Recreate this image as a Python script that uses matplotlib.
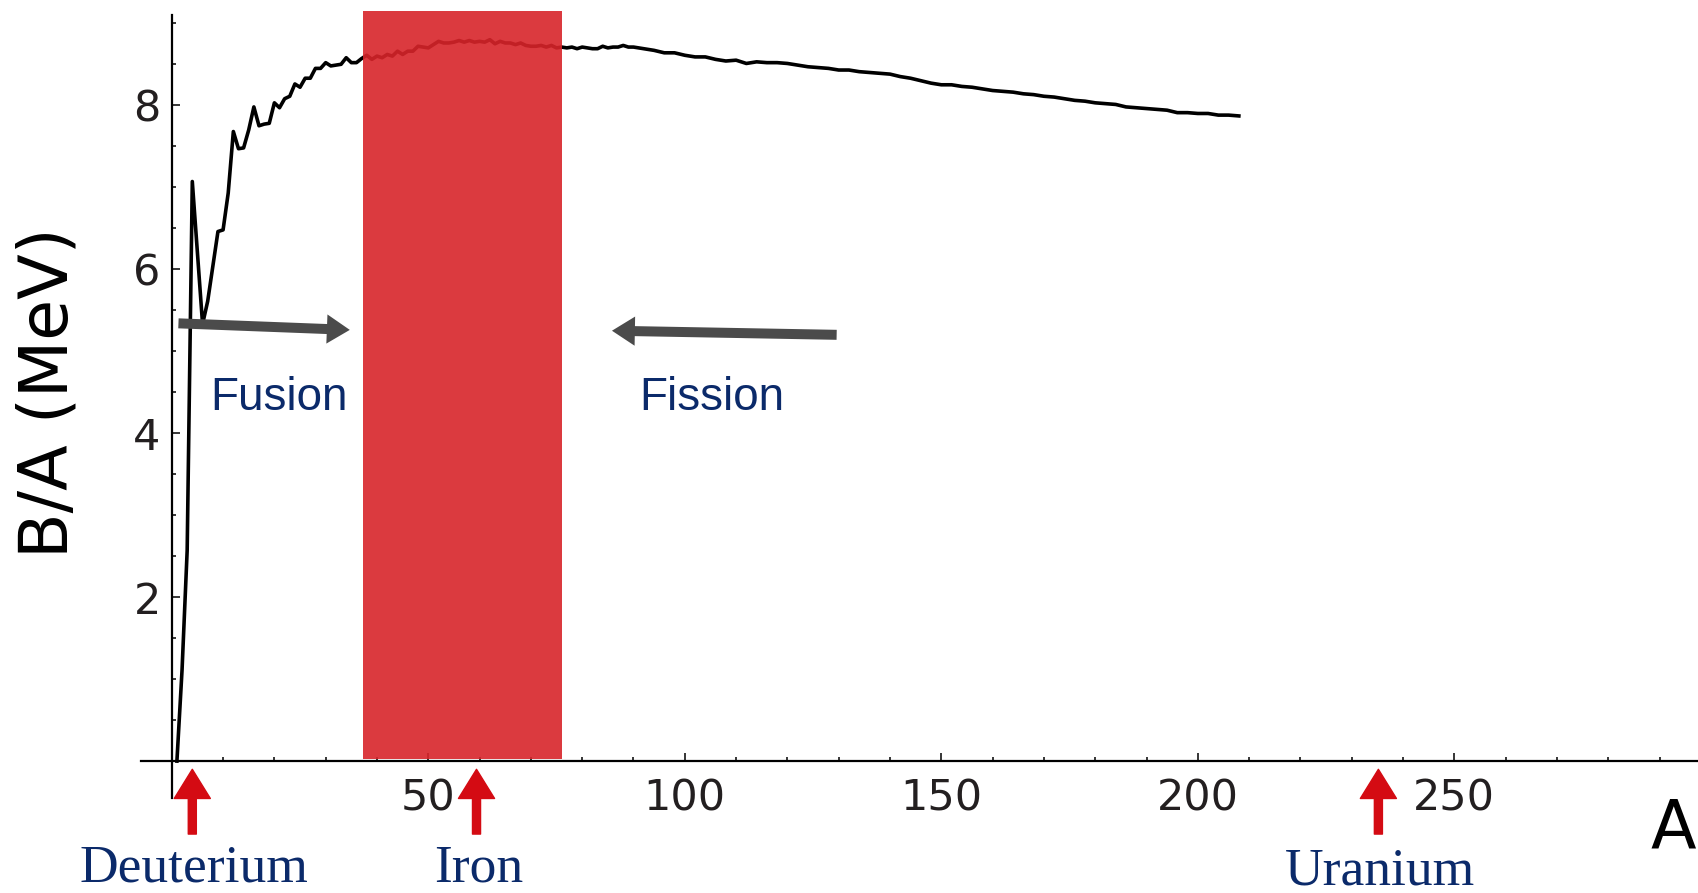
import numpy as np
import matplotlib.pyplot as plt
from matplotlib.ticker import FixedLocator

# binding energy per nucleon vs mass number
mass_number = [1, 2, 3, 4, 6, 7, 9, 10, 11, 12, 13, 14, 15, 16, 17, 18, 19, 20,
               21, 22, 23, 24, 25, 26, 27, 28, 29, 30, 31, 32, 33, 34, 35, 36,
               37, 38, 39, 40, 41, 42, 43, 44, 45, 46, 47, 48, 49, 50, 51, 52,
               53, 54, 55, 56, 57, 58, 59, 60, 61, 62, 63, 64, 65, 66, 67, 68,
               69, 70, 71, 72, 73, 74, 75, 76, 77, 78, 79, 80, 81, 82, 83, 84,
               85, 86, 87, 88, 89, 90, 92, 94, 96, 98, 100, 102, 104, 106, 108,
               110, 112, 114, 116, 118, 120, 122, 124, 126, 128, 130, 132, 134,
               136, 138, 140, 142, 144, 146, 148, 150, 152, 154, 156, 158, 160,
               162, 164, 166, 168, 170, 172, 174, 176, 178, 180, 182, 184, 186,
               188, 190, 192, 194, 196, 198, 200, 202, 204, 206, 208]
binding = [0.0, 1.11, 2.57, 7.07, 5.33, 5.61, 6.46, 6.48, 6.93, 7.68, 7.47, 7.48,
           7.70, 7.98, 7.75, 7.77, 7.78, 8.03, 7.97, 8.08, 8.11, 8.26, 8.22, 8.33,
           8.33, 8.45, 8.45, 8.52, 8.48, 8.49, 8.50, 8.58, 8.52, 8.52, 8.57, 8.61,
           8.56, 8.60, 8.58, 8.62, 8.60, 8.66, 8.62, 8.66, 8.66, 8.72, 8.71, 8.70,
           8.74, 8.78, 8.76, 8.76, 8.77, 8.79, 8.77, 8.79, 8.77, 8.78, 8.77, 8.80,
           8.75, 8.78, 8.76, 8.76, 8.74, 8.76, 8.73, 8.72, 8.72, 8.73, 8.71, 8.73,
           8.70, 8.71, 8.70, 8.71, 8.69, 8.71, 8.70, 8.69, 8.69, 8.72, 8.70, 8.71,
           8.71, 8.73, 8.71, 8.71, 8.69, 8.67, 8.64, 8.64, 8.61, 8.59, 8.59, 8.56,
           8.54, 8.55, 8.51, 8.53, 8.52, 8.52, 8.51, 8.49, 8.47, 8.46, 8.45, 8.43,
           8.43, 8.41, 8.40, 8.39, 8.38, 8.35, 8.33, 8.30, 8.27, 8.25, 8.25, 8.23,
           8.22, 8.20, 8.18, 8.17, 8.16, 8.14, 8.13, 8.11, 8.10, 8.08, 8.06, 8.05,
           8.03, 8.02, 8.01, 7.98, 7.97, 7.96, 7.95, 7.94, 7.91, 7.91, 7.90, 7.90,
           7.88, 7.88, 7.87]

band_left, band_right, band_top = 37.2, 76.0, 9.15

x_major = [50, 100, 150, 200, 250]
x_minor = [v for v in range(10, 300, 10) if v % 50]
y_major = [2, 4, 6, 8]
y_minor = [0.5, 1, 1.5, 2.5, 3, 3.5, 4.5, 5, 5.5, 6.5, 7, 7.5, 8.5, 9]

# nuclei marked below the axis
nuclei = ['Deuterium', 'Iron', 'Uranium']
nuclei_A = [4.0, 59.4, 235.2]
nuclei_label_y = [-1.31, -1.31, -1.35]

# fusion / fission arrows: (start A, start y, end A, end y)
fusion_arrow = (1.3, 5.34, 34.7, 5.26)
fission_arrow = (129.6, 5.20, 85.8, 5.25)

navy = '#0b2a6a'
red_arrow = '#d40b13'
gray_arrow = '#4b4b4b'
ink = '#231f20'

fig = plt.figure(figsize=(16.98, 8.93), dpi=100)
ax = fig.add_axes([141 / 1698, 95 / 893, 1557 / 1698, 787 / 893])

ax.plot(mass_number, binding, color='black', lw=2.6, zorder=2)
ax.fill_between([band_left, band_right], 0.02, band_top,
                color='#d8242a', alpha=0.9, lw=0, zorder=3)

ax.set_xlim(-6, 297.5)
ax.set_ylim(-0.45, band_top)

for s in ['top', 'right']:
    ax.spines[s].set_visible(False)
ax.spines['left'].set_position(('data', 0))
ax.spines['bottom'].set_position(('data', 0))
ax.spines['left'].set_bounds(-0.45, 9.1)
for s in ['left', 'bottom']:
    ax.spines[s].set_linewidth(1.6)
    ax.spines[s].set_zorder(4)

ax.xaxis.set_major_locator(FixedLocator(x_major))
ax.xaxis.set_minor_locator(FixedLocator(x_minor))
ax.yaxis.set_major_locator(FixedLocator(y_major))
ax.yaxis.set_minor_locator(FixedLocator(y_minor))
ax.tick_params(which='both', direction='in', width=1.1, colors='black')
ax.tick_params(which='major', length=5.5)
ax.tick_params(which='minor', length=2.6)
ax.tick_params(axis='x', which='major', pad=12, labelsize=31, labelcolor=ink)
ax.tick_params(axis='y', which='major', pad=8, labelsize=31, labelcolor=ink)

fig.text(49 / 1698, 1 - 393 / 893, 'B/A (MeV)', rotation=90, fontsize=48,
         ha='center', va='center')
fig.text(1673 / 1698, 1 - 829 / 893, 'A', fontsize=48, ha='center', va='center')

sans = ['Liberation Sans', 'DejaVu Sans']
ax.text(20.9, 4.43, 'Fusion', fontsize=33, color=navy, family=sans,
        ha='center', va='center')
ax.text(105.2, 4.43, 'Fission', fontsize=33, color=navy, family=sans,
        ha='center', va='center')

gray_style = 'simple,head_length=16.5,head_width=21,tail_width=7.2'
for x0, y0, x1, y1 in [fusion_arrow, fission_arrow]:
    ax.annotate('', xy=(x1, y1), xytext=(x0, y0),
                arrowprops=dict(arrowstyle=gray_style, mutation_scale=1,
                                color=gray_arrow, lw=0, shrinkA=0, shrinkB=0),
                zorder=5)

red_style = 'simple,head_length=21,head_width=26,tail_width=5.8'
for name, a, ly in zip(nuclei, nuclei_A, nuclei_label_y):
    ax.annotate('', xy=(a, -0.1), xytext=(a, -0.89), annotation_clip=False,
                arrowprops=dict(arrowstyle=red_style, mutation_scale=1,
                                color=red_arrow, lw=1, joinstyle='round',
                                shrinkA=0, shrinkB=0, clip_on=False),
                zorder=6)
    ax.text(a + 0.4, ly, name, fontsize=38.5, color=navy,
            family='Liberation Serif', ha='center', va='center', clip_on=False)

fig.savefig('out.png', dpi=100)
